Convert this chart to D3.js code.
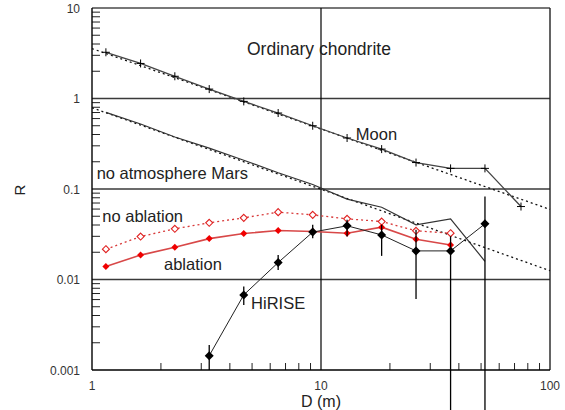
<!DOCTYPE html>
<html><head><meta charset="utf-8">
<script src="https://cdn.jsdelivr.net/npm/d3@7"></script>
<style>
html,body{margin:0;padding:0;background:#fff;}
svg{display:block;font-family:"Liberation Sans",Arial,sans-serif;}
</style></head>
<body>
<svg id="chart" width="565" height="410"></svg>
<script>
// ---- data ----
const D = [1.15, 1.63, 2.3, 3.25, 4.6, 6.5, 9.2, 13, 18.4, 26, 36.8, 52, 74.7];
const moonR = [3.24, 2.44, 1.76, 1.27, 0.929, 0.691, 0.500, 0.366, 0.276, 0.196, 0.169, 0.169, 0.064];
const marsR = [0.702, 0.522, 0.375, 0.283, 0.208, 0.151, 0.112, 0.0773, 0.0628, 0.0402, 0.0468, 0.0159];
const noAblationR = [0.0216, 0.0298, 0.0363, 0.0423, 0.0480, 0.0555, 0.0518, 0.0468, 0.0437, 0.0345, 0.0325];
const ablationR = [0.0139, 0.0186, 0.0227, 0.0283, 0.0322, 0.0348, 0.0339, 0.0325, 0.0379, 0.0279, 0.0241];
const hiriseD = [3.25, 4.6, 6.5, 9.2, 13, 18.4, 26, 36.8, 52];
const hiriseR = [0.00144, 0.00676, 0.0154, 0.0334, 0.0392, 0.0311, 0.0207, 0.0207, 0.0412];
const hiriseHi = [0.00189, 0.00835, 0.0187, 0.0402, 0.0456, 0.0402, 0.0354, 0.030, 0.0826];
const hiriseLo = [0.001, 0.00524, 0.01277, 0.0286, 0.0298, 0.01824, 0.0061, 0.0001, 0.0001];
const fitD = [1, 100];
const moonFitR = [3.56, 0.0595];
const marsFitR = [0.79, 0.0125];
const yTickLabels = ["0.001", "0.01", "0.1", "1", "10"];
const yTickValues = [0.001, 0.01, 0.1, 1, 10];
const xTickLabels = ["1", "10", "100"];
const xTickValues = [1, 10, 100];
const labelTexts = ["Ordinary chondrite", "Moon", "no atmosphere Mars", "no ablation", "ablation", "HiRISE"];
const labelD = [4.75, 14.2, 1.048, 1.109, 2.063, 4.95];
const labelR = [3.03, 0.3475, 0.129, 0.0431, 0.01274, 0.00472];

// ---- scales ----
const L = 92, Rt = 550, T = 8, B = 370;
const x = d3.scaleLog().domain([1, 100]).range([L, Rt]);
const y = d3.scaleLog().domain([0.001, 10]).range([B, T]);
const svg = d3.select("#chart");

// minor ticks
const xMinor = [];
[1, 10].forEach(base => { for (let k = 2; k <= 9; k++) xMinor.push(base * k); });
const yMinor = [];
[0.001, 0.01, 0.1, 1].forEach(base => { for (let k = 2; k <= 9; k++) yMinor.push(base * k); });

svg.append("g").selectAll("line").data(xMinor).join("line")
  .attr("x1", d => x(d)).attr("x2", d => x(d))
  .attr("y1", B).attr("y2", B - 7)
  .attr("stroke", "#222").attr("stroke-width", 1);
svg.append("g").selectAll("line").data(yMinor).join("line")
  .attr("x1", L).attr("x2", L + 8)
  .attr("y1", d => y(d)).attr("y2", d => y(d))
  .attr("stroke", "#222").attr("stroke-width", 1);

// horizontal decade lines
svg.append("g").selectAll("line").data([0.01, 0.1, 1]).join("line")
  .attr("x1", L).attr("x2", Rt)
  .attr("y1", d => y(d)).attr("y2", d => y(d))
  .attr("stroke", "#3a3a3a").attr("stroke-width", 1.4);
// top frame
svg.append("line").attr("x1", L).attr("x2", Rt).attr("y1", y(10)).attr("y2", y(10))
  .attr("stroke", "#777").attr("stroke-width", 2);
// vertical line at 10
svg.append("line").attr("x1", x(10)).attr("x2", x(10)).attr("y1", T).attr("y2", B)
  .attr("stroke", "#000").attr("stroke-width", 1.2);
// right frame
svg.append("line").attr("x1", Rt).attr("x2", Rt).attr("y1", T).attr("y2", B)
  .attr("stroke", "#222").attr("stroke-width", 1.4);
// left & bottom axes
svg.append("line").attr("x1", L).attr("x2", L).attr("y1", T).attr("y2", B)
  .attr("stroke", "#000").attr("stroke-width", 1.4);
svg.append("line").attr("x1", L).attr("x2", Rt).attr("y1", B).attr("y2", B)
  .attr("stroke", "#000").attr("stroke-width", 1.4);

// tick labels
svg.append("g").selectAll("text").data(yTickValues).join("text")
  .attr("x", L - 12).attr("y", d => y(d) + 4.5)
  .attr("text-anchor", "end").attr("font-size", 12).attr("fill", "#333")
  .text((d, i) => yTickLabels[i]);
svg.append("g").selectAll("text").data(xTickValues).join("text")
  .attr("x", d => x(d)).attr("y", B + 20)
  .attr("text-anchor", "middle").attr("font-size", 12).attr("fill", "#333")
  .text((d, i) => xTickLabels[i]);

// axis titles
svg.append("text").attr("x", x(10)).attr("y", 407).attr("text-anchor", "middle")
  .attr("font-size", 16).attr("fill", "#222").text("D (m)");
svg.append("text").attr("transform", "translate(25,190) rotate(-90)")
  .attr("text-anchor", "middle").attr("font-size", 15).attr("fill", "#222").text("R");

const line = d3.line().x(d => x(d[0])).y(d => y(d[1]));

// fit lines (dotted)
svg.append("path").datum(fitD.map((d, i) => [d, moonFitR[i]])).attr("d", line)
  .attr("fill", "none").attr("stroke", "#111").attr("stroke-width", 1.3).attr("stroke-dasharray", "2,3");
svg.append("path").datum(fitD.map((d, i) => [d, marsFitR[i]])).attr("d", line)
  .attr("fill", "none").attr("stroke", "#111").attr("stroke-width", 1.3).attr("stroke-dasharray", "2,3");

// Moon line + markers
const moonPts = moonR.map((r, i) => [D[i], r]);
svg.append("path").datum(moonPts).attr("d", line)
  .attr("fill", "none").attr("stroke", "#444").attr("stroke-width", 1.3);
svg.append("g").selectAll("path").data(moonPts).join("path")
  .attr("transform", d => `translate(${x(d[0])},${y(d[1])})`)
  .attr("d", "M-4,0H4M0,-4V4").attr("stroke", "#000").attr("stroke-width", 1);

// Mars (no atmosphere)
const marsPts = marsR.map((r, i) => [D[i], r]);
svg.append("path").datum(marsPts).attr("d", line)
  .attr("fill", "none").attr("stroke", "#333").attr("stroke-width", 1.2);

// no ablation
const noAblPts = noAblationR.map((r, i) => [D[i], r]);
svg.append("path").datum(noAblPts).attr("d", line)
  .attr("fill", "none").attr("stroke", "#d83a3a").attr("stroke-width", 1.3).attr("stroke-dasharray", "2,3");
svg.append("g").selectAll("path").data(noAblPts).join("path")
  .attr("transform", d => `translate(${x(d[0])},${y(d[1])})`)
  .attr("d", "M0,-3.5L3.5,0L0,3.5L-3.5,0Z").attr("fill", "#fff").attr("stroke", "#e02020").attr("stroke-width", 1.1);

// ablation
const ablPts = ablationR.map((r, i) => [D[i], r]);
svg.append("path").datum(ablPts).attr("d", line)
  .attr("fill", "none").attr("stroke", "#d84848").attr("stroke-width", 1.6);
svg.append("g").selectAll("path").data(ablPts).join("path")
  .attr("transform", d => `translate(${x(d[0])},${y(d[1])})`)
  .attr("d", "M0,-3.5L3.5,0L0,3.5L-3.5,0Z").attr("fill", "#f00000");

// HiRISE
const hiPts = hiriseR.map((r, i) => [hiriseD[i], r]);
svg.append("g").selectAll("line").data(hiriseD).join("line")
  .attr("x1", d => x(d)).attr("x2", d => x(d))
  .attr("y1", (d, i) => y(hiriseHi[i])).attr("y2", (d, i) => Math.min(410, y(hiriseLo[i])))
  .attr("stroke", "#000").attr("stroke-width", 1.3);
svg.append("path").datum(hiPts).attr("d", line)
  .attr("fill", "none").attr("stroke", "#222").attr("stroke-width", 1);
svg.append("g").selectAll("path").data(hiPts).join("path")
  .attr("transform", d => `translate(${x(d[0])},${y(d[1])})`)
  .attr("d", "M0,-4.5L4.5,0L0,4.5L-4.5,0Z").attr("fill", "#000");

// in-chart labels
svg.append("g").selectAll("text").data(labelTexts).join("text")
  .attr("x", (d, i) => x(labelD[i])).attr("y", (d, i) => y(labelR[i]))
  .attr("font-size", (d, i) => i === 0 ? 17.5 : 16.5).attr("fill", "#222")
  .text(d => d);
</script>
</body></html>
